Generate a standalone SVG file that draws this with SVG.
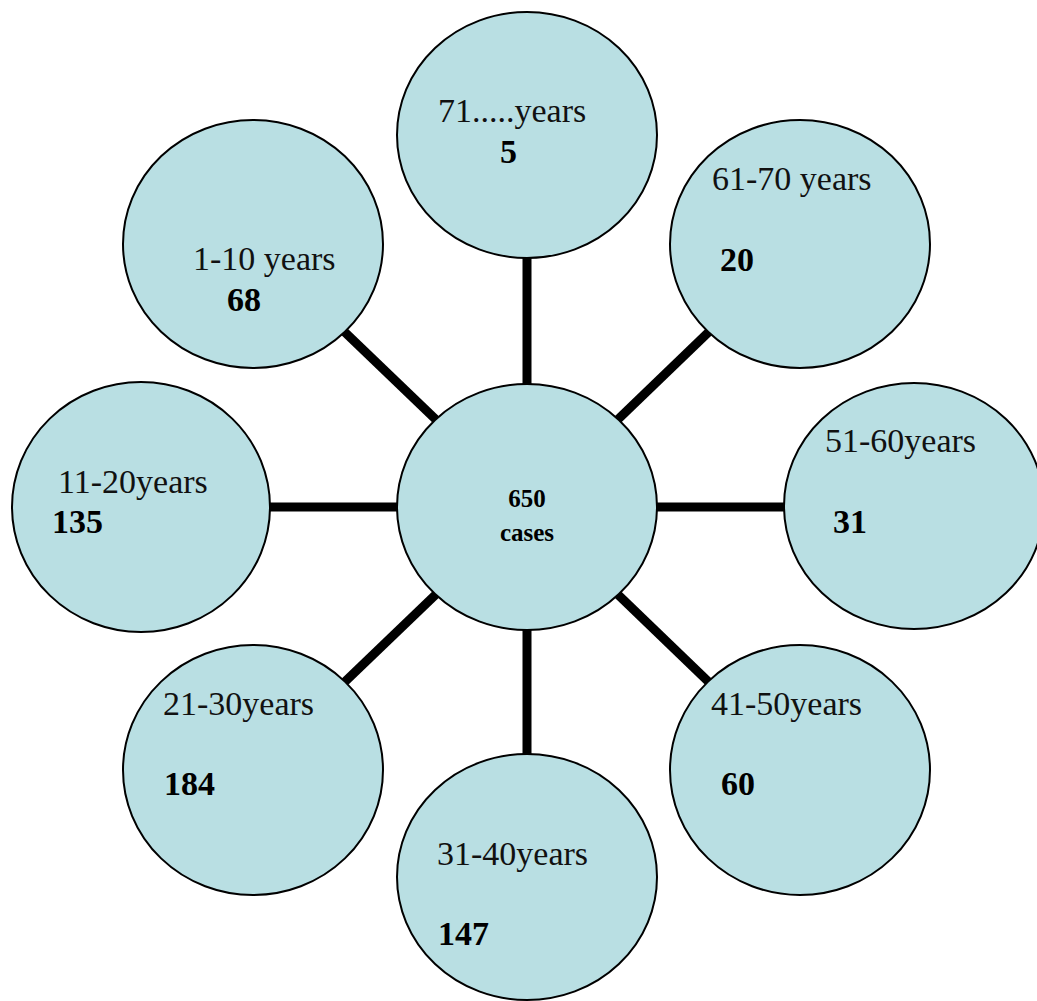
<svg xmlns="http://www.w3.org/2000/svg" width="1037" height="1001" viewBox="0 0 1037 1001">
<style>
.node{fill:#B9DFE3;stroke:#000;stroke-width:2}
.conn{stroke:#000;stroke-width:9;fill:none}
.lbl{font-family:"Liberation Serif","Times New Roman",serif;font-size:34px;fill:#111}
.num{font-family:"Liberation Serif","Times New Roman",serif;font-size:34px;font-weight:bold;fill:#000}
.ctr{font-family:"Liberation Serif","Times New Roman",serif;font-size:25px;font-weight:bold;fill:#000;text-anchor:middle}
</style>
<rect width="1037" height="1001" fill="#fff"/>
<g id="connectors">
<line class="conn" x1="527" y1="507" x2="527" y2="135"/>
<line class="conn" x1="527" y1="507" x2="800" y2="244"/>
<line class="conn" x1="527" y1="507" x2="914" y2="507"/>
<line class="conn" x1="527" y1="507" x2="800" y2="770"/>
<line class="conn" x1="527" y1="507" x2="527" y2="877"/>
<line class="conn" x1="527" y1="507" x2="253" y2="770"/>
<line class="conn" x1="527" y1="507" x2="141" y2="507"/>
<line class="conn" x1="527" y1="507" x2="253" y2="244"/>
</g>
<g id="center">
<ellipse class="node" cx="527" cy="507" rx="130" ry="123"/>
<text class="ctr" x="527" y="507">650</text>
<text class="ctr" x="527" y="541">cases</text>
</g>
<g id="n71">
<ellipse class="node" cx="527" cy="135" rx="130" ry="123"/>
<text class="lbl" x="438" y="122">71.....years</text>
<text class="num" x="500" y="163">5</text>
</g>
<g id="n61">
<ellipse class="node" cx="800" cy="244" rx="130" ry="124"/>
<text class="lbl" x="712" y="190">61-70 years</text>
<text class="num" x="720" y="271">20</text>
</g>
<g id="n51">
<ellipse class="node" cx="914" cy="506" rx="130" ry="123"/>
<text class="lbl" x="825" y="452">51-60years</text>
<text class="num" x="833" y="533">31</text>
</g>
<g id="n41">
<ellipse class="node" cx="800" cy="770" rx="130" ry="125"/>
<text class="lbl" x="711" y="715">41-50years</text>
<text class="num" x="721" y="795">60</text>
</g>
<g id="n31">
<ellipse class="node" cx="527" cy="877" rx="130" ry="123"/>
<text class="lbl" x="437" y="865">31-40years</text>
<text class="num" x="438" y="945">147</text>
</g>
<g id="n21">
<ellipse class="node" cx="253" cy="770" rx="130" ry="125"/>
<text class="lbl" x="163" y="715">21-30years</text>
<text class="num" x="164" y="795">184</text>
</g>
<g id="n11">
<ellipse class="node" cx="141" cy="507" rx="129" ry="125"/>
<text class="lbl" x="58" y="493">11-20years</text>
<text class="num" x="52" y="533">135</text>
</g>
<g id="n1">
<ellipse class="node" cx="253" cy="244" rx="130" ry="124"/>
<text class="lbl" x="193" y="270">1-10 years</text>
<text class="num" x="227" y="311">68</text>
</g>
</svg>
